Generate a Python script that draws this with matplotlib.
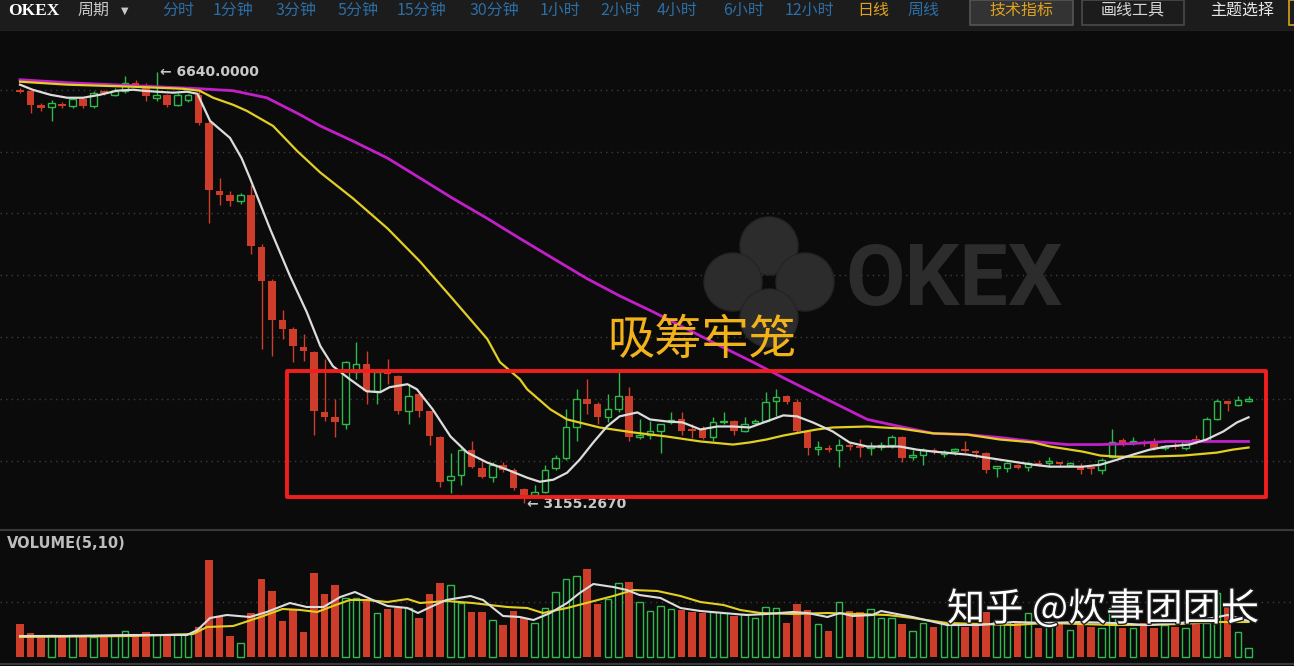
import numpy as np
import matplotlib.pyplot as plt
import matplotlib.patheffects as pe
from matplotlib.patches import Rectangle, Circle
from matplotlib.transforms import IdentityTransform

# daily candles (price)
opens = [6500, 6492, 6378, 6362, 6386, 6370, 6427, 6370, 6492, 6459,
         6492, 6557, 6541, 6435, 6459, 6378, 6419, 6459, 6232, 5679,
         5646, 5598, 5646, 5224, 4955, 4638, 4565, 4419, 4378, 3890,
         3850, 3793, 4215, 4280, 4061, 4224, 4183, 3898, 4037, 3898,
         3695, 3346, 3386, 3589, 3443, 3370, 3467, 3427, 3272, 3224,
         3248, 3443, 3524, 3768, 3996, 3955, 3850, 3915, 4020, 3695,
         3711, 3736, 3809, 3833, 3752, 3752, 3695, 3809, 3817, 3736,
         3805, 3817, 3980, 4020, 3972, 3728, 3598, 3606, 3589, 3630,
         3622, 3606, 3614, 3630, 3695, 3532, 3549, 3589, 3557, 3581,
         3589, 3581, 3565, 3443, 3443, 3467, 3451, 3484, 3484, 3484,
         3467, 3459, 3443, 3427, 3532, 3663, 3647, 3647, 3655, 3606,
         3630, 3606, 3671, 3655, 3833, 3980, 3947, 3980]
highs = [6510, 6500, 6394, 6419, 6403, 6443, 6443, 6492, 6500, 6516,
         6614, 6581, 6557, 6640, 6467, 6476, 6467, 6492, 6248, 5785,
         5679, 5663, 5728, 5256, 4972, 4720, 4581, 4524, 4386, 4321,
         3996, 4305, 4459, 4386, 4220, 4321, 4190, 4118, 4045, 3905,
         3700, 3565, 3606, 3655, 3508, 3492, 3492, 3443, 3281, 3305,
         3467, 3549, 3915, 4077, 4159, 3972, 4037, 4215, 4094, 3833,
         3817, 3800, 3890, 3890, 3793, 3776, 3850, 3890, 3825, 3850,
         3833, 4053, 4077, 4028, 3996, 3730, 3655, 3630, 3671, 3647,
         3671, 3647, 3647, 3711, 3703, 3589, 3606, 3606, 3589, 3606,
         3655, 3589, 3573, 3455, 3492, 3475, 3492, 3508, 3532, 3492,
         3492, 3484, 3451, 3524, 3752, 3679, 3695, 3663, 3687, 3630,
         3647, 3655, 3711, 3850, 3996, 3985, 4020, 4020]
lows = [6476, 6313, 6329, 6248, 6354, 6354, 6354, 6354, 6459, 6451,
        6476, 6533, 6411, 6411, 6362, 6370, 6403, 6215, 5419, 5565,
        5557, 5573, 5175, 4402, 4346, 4484, 4297, 4305, 3711, 3817,
        3695, 3752, 4159, 3955, 3955, 4118, 3874, 3793, 3850, 3630,
        3289, 3240, 3305, 3443, 3362, 3329, 3410, 3264, 3155, 3207,
        3240, 3427, 3508, 3655, 3874, 3793, 3809, 3890, 3655, 3671,
        3671, 3565, 3793, 3711, 3687, 3671, 3655, 3793, 3711, 3728,
        3793, 3809, 3858, 3955, 3728, 3549, 3549, 3573, 3451, 3589,
        3532, 3549, 3589, 3606, 3492, 3508, 3467, 3557, 3532, 3549,
        3573, 3524, 3402, 3370, 3410, 3435, 3418, 3459, 3451, 3451,
        3451, 3394, 3394, 3394, 3524, 3622, 3630, 3622, 3589, 3589,
        3598, 3589, 3638, 3647, 3825, 3898, 3939, 3972]
closes = [6484, 6378, 6354, 6394, 6370, 6427, 6370, 6476, 6476, 6492,
          6557, 6541, 6451, 6459, 6378, 6459, 6459, 6232, 5687, 5646,
          5598, 5646, 5232, 4955, 4638, 4565, 4427, 4386, 3898, 3850,
          3809, 4297, 4280, 4061, 4215, 4199, 3898, 4020, 3898, 3703,
          3329, 3378, 3589, 3451, 3370, 3467, 3427, 3281, 3224, 3248,
          3427, 3524, 3768, 3996, 3955, 3850, 3915, 4020, 3695, 3711,
          3736, 3793, 3825, 3736, 3736, 3687, 3809, 3817, 3736, 3793,
          3817, 3972, 4012, 3972, 3736, 3606, 3606, 3589, 3630, 3614,
          3606, 3614, 3622, 3695, 3524, 3541, 3589, 3573, 3565, 3589,
          3581, 3565, 3427, 3451, 3484, 3443, 3484, 3467, 3492, 3475,
          3475, 3427, 3435, 3508, 3647, 3638, 3655, 3638, 3606, 3614,
          3614, 3647, 3647, 3833, 3980, 3955, 3988, 3996]

# volume (relative units)
volume = [33, 24, 22, 22, 22, 22, 20, 20, 22, 22, 26, 21, 25, 22, 22, 23, 23, 30, 97, 40,
          21, 14, 44, 78, 66, 36, 47, 25, 84, 63, 72, 59, 59, 57, 44, 48, 49, 49, 39, 63,
          74, 72, 54, 45, 45, 37, 32, 46, 39, 34, 49, 65, 78, 81, 88, 53, 58, 74, 75, 55,
          46, 51, 48, 47, 45, 44, 45, 44, 41, 43, 39, 50, 49, 34, 53, 47, 33, 26, 55, 46,
          45, 48, 39, 39, 33, 26, 34, 30, 34, 34, 30, 34, 45, 35, 35, 34, 44, 29, 35, 35,
          27, 34, 30, 29, 49, 29, 29, 34, 29, 32, 30, 29, 34, 34, 64, 54, 25, 9]

# moving average lines (candle index, price)
ma_white_idx = [0, 1.2, 2.9, 4.5, 6, 7.6, 9.2, 10.8, 11.7, 13, 14.6, 15.9, 16.9, 18.1, 20, 21.1,
                21.9, 23.8, 25.7, 27.3, 28.6, 29.8, 31.4, 33, 34.3, 35.2, 36.9, 37.8, 39.3, 41,
                42.6, 44.5, 46.4, 48.3, 49.5, 50.8, 52.1, 53.3, 54.6, 55.9, 57.1, 58.8, 60, 61.6,
                63.1, 64.8, 66.4, 67.9, 69.5, 71.1, 72.7, 74, 75.5, 77.4, 79, 80.7, 83.8, 85.4,
                87, 90.2, 93.3, 96.5, 98.1, 101.2, 102.9, 104.5, 106, 107.6, 109.2, 111.4, 113,
                114.6, 115.9, 117]
ma_white = [6541, 6500, 6459, 6435, 6435, 6459, 6492, 6500, 6492, 6484, 6476, 6484, 6467, 6248,
            6110, 5947, 5785, 5378, 4996, 4703, 4427, 4264, 4159, 4061, 4053, 4094, 4118, 4077,
            3915, 3695, 3565, 3484, 3427, 3362, 3329, 3346, 3402, 3508, 3647, 3776, 3858, 3890,
            3833, 3817, 3809, 3752, 3776, 3776, 3768, 3817, 3866, 3858, 3809, 3736, 3647, 3614,
            3614, 3589, 3573, 3549, 3508, 3467, 3451, 3451, 3467, 3508, 3549, 3589, 3614, 3630,
            3671, 3736, 3809, 3850]
ma_yellow_idx = [0, 4.5, 10.8, 15.5, 17.1, 18.4, 20.3, 21.6, 24.1, 26.4, 28.6, 31.7, 35, 38.1,
                 41.2, 44.5, 45.7, 47.6, 48.3, 50.5, 52.1, 55.2, 58.4, 61.6, 64.8, 67.9, 69.5,
                 71.1, 72.7, 74.3, 75.9, 77.4, 80.7, 82.2, 83.8, 87, 90.2, 93.3, 96.5, 98.1,
                 101.2, 102.9, 104.5, 107.6, 110.8, 114, 115.5, 117]
ma_yellow = [6565, 6541, 6524, 6508, 6492, 6435, 6378, 6329, 6207, 6004, 5830, 5622, 5378, 5110,
             4809, 4484, 4297, 4159, 4077, 3915, 3833, 3768, 3728, 3695, 3655, 3630, 3647, 3671,
             3703, 3728, 3752, 3768, 3776, 3768, 3760, 3720, 3711, 3671, 3647, 3614, 3573, 3541,
             3532, 3532, 3541, 3565, 3589, 3606]
ma_magenta_idx = [0, 4.5, 10.8, 17.1, 20.3, 23.5, 26.7, 28.6, 31.7, 35, 38.1, 41.2, 44.5, 47.6,
                  50.8, 54, 57.1, 60.3, 63.5, 66.7, 69.8, 72.4, 74.3, 77.4, 80.7, 83.8, 87, 90.2,
                  93.3, 96.5, 99.7, 102.9, 106, 109.2, 117]
ma_magenta = [6581, 6557, 6533, 6508, 6492, 6435, 6297, 6207, 6085, 5947, 5785, 5622, 5459, 5297,
              5134, 4972, 4833, 4703, 4565, 4427, 4297, 4183, 4102, 3972, 3833, 3776, 3720, 3711,
              3687, 3655, 3630, 3630, 3638, 3655, 3655]

vol_ma_idx = [0, 4.5, 10.8, 15.9, 16.9, 18.1, 19.7, 21.9, 23.5, 25.7, 27.3, 28.9, 30.5, 31.9,
              33.6, 35, 36.9, 37.9, 39.3, 40.6, 42.9, 44.1, 46, 47.6, 48.9, 50.5, 52.1, 53.3,
              54.6, 56.5, 57.8, 59, 61, 62.9, 64.8, 67, 69.2, 71.1, 73.6, 75, 76.9, 78.1, 79.3,
              81.2, 82, 85, 88.3, 91.4, 94.6, 97.8, 101, 104.1, 107.3, 110.5, 113.6, 115, 117]
vol_ma_white = [21, 21, 22, 22, 27, 39, 42, 40, 45, 54, 50, 50, 60, 65, 57, 51, 49, 44, 51, 57,
                61, 57, 41, 40, 37, 44, 54, 64, 73, 70, 67, 62, 59, 49, 46, 44, 42, 43, 45, 44,
                40, 44, 41, 42, 46, 40, 32, 32, 35, 34, 35, 34, 32, 34, 39, 42, 36]
vol_ma10_idx = [0, 10.8, 16.5, 17.8, 20.3, 22.9, 25, 26.7, 28.3, 29.8, 31.4, 33, 35, 36.9, 38.1,
                40.6, 43.1, 46.4, 48.3, 49.8, 52.1, 54.3, 56.5, 58.4, 60.7, 62.9, 64.8, 67, 68.6,
                70.5, 73.6, 76.9, 79.7, 82.6, 85, 88.3, 91.4, 94.6, 97.8, 101, 104.1, 107.3,
                110.5, 113.6, 117]
vol_ma_yellow = [20, 21, 23, 30, 31, 40, 48, 47, 45, 51, 57, 57, 55, 58, 54, 56, 54, 50, 49, 44,
                 49, 55, 61, 67, 66, 61, 55, 52, 47, 44, 43, 44, 43, 42, 39, 34, 33, 32, 34, 33,
                 32, 32, 33, 35, 35]

menu_items = ["分时", "1分钟", "3分钟", "5分钟", "15分钟", "30分钟", "1小时",
              "2小时", "4小时", "6小时", "12小时", "日线", "周线"]
menu_x = [162, 213, 275, 337, 397, 470, 540, 600, 657, 723, 785, 857, 908]

W, H = 1294, 666
BG = "#0b0b0b"
RED = "#cd3d29"
GREEN = "#2fb84c"
CJK = ["Noto Sans CJK SC", "DejaVu Sans"]


def fx(x):
    return x / W


def fy(y):
    return 1 - y / H


fig = plt.figure(figsize=(W / 100, H / 100), dpi=100, facecolor=BG)

# ---- price panel ----
ax = fig.add_axes([0, fy(528), 1, (528 - 31) / H], facecolor=BG)
idx = np.arange(len(opens))
o = np.array(opens); c = np.array(closes)
up = c >= o

for p in range(3500, 7000, 500):
    ax.axhline(p, color="#3c3c3c", lw=1, ls=(0, (1, 3)), zorder=0)

# watermark logo
wm = "#2c2c2c"
for cx, cy in [(769, 246), (733, 282), (805, 282), (769, 318)]:
    ax.add_patch(Circle((cx, H - cy), 29, transform=IdentityTransform(),
                        facecolor=wm, edgecolor="#242424", lw=1, zorder=0.5))
ax.add_patch(Rectangle((763, H - 288), 12, 12, transform=IdentityTransform(),
                       facecolor=BG, zorder=0.6))
fig.text(fx(845), fy(282), "OKEX", color=wm, fontsize=62, family="Roboto",
         fontweight="bold", va="center", ha="left", zorder=0.5)

ax.vlines(idx[up], np.array(lows)[up], np.array(highs)[up], color=GREEN, lw=1, zorder=2)
ax.vlines(idx[~up], np.array(lows)[~up], np.array(highs)[~up], color=RED, lw=1, zorder=2)
body = np.maximum(np.abs(c - o), 10)
bottom = np.minimum(o, c)
ax.bar(idx[~up], body[~up], bottom=bottom[~up], width=0.68, color=RED, zorder=3)
ax.bar(idx[up], body[up], bottom=bottom[up], width=0.62, facecolor=BG,
       edgecolor=GREEN, lw=1, zorder=3)

ax.plot(ma_magenta_idx, ma_magenta, color="#c21fc9", lw=2, zorder=4)
ax.plot(ma_yellow_idx, ma_yellow, color="#e3cf22", lw=1.6, zorder=4)
ax.plot(ma_white_idx, ma_white, color="#dcdcdc", lw=1.6, zorder=4)

ax.text(13.3, 6640, "\u2190 6640.0000", color="#c8c8c8", fontsize=10, fontweight="bold",
        va="center", ha="left", zorder=5)
ax.text(48.3, 3150, "\u2190 3155.2670", color="#c8c8c8", fontsize=10, fontweight="bold",
        va="center", ha="left", zorder=5)

# highlighted box and label
ax.add_patch(Rectangle((25.4, 3207), 118.7 - 25.4, 4224 - 3207, fill=False,
                       edgecolor="#f21e1e", lw=2.8, joinstyle="round", zorder=6))
ax.text(64.95, 4470, "吸筹牢笼", color="#f2b21a", fontsize=34, family=CJK,
        ha="center", va="center", zorder=6)

ax.set_xlim(-1.905, 121.33)
ax.set_ylim(2955, 6975)
ax.axis("off")

# ---- volume panel ----
vx = fig.add_axes([0, fy(663), 1, (663 - 531) / H], facecolor=BG)
v = np.array(volume)
vx.axhline(55, color="#3c3c3c", lw=1, ls=(0, (1, 3)), zorder=0)
vx.bar(idx[~up], v[~up], width=0.7, color=RED, zorder=2)
vx.bar(idx[up], v[up], width=0.62, facecolor=BG, edgecolor=GREEN, lw=1, zorder=2)
vx.plot(vol_ma10_idx, vol_ma_yellow, color="#e3cf22", lw=1.5, zorder=3)
vx.plot(vol_ma_idx, vol_ma_white, color="#dcdcdc", lw=1.5, zorder=3)
vx.set_xlim(-1.905, 121.33)
vx.set_ylim(-6, 126)
vx.axis("off")
fig.text(fx(7), fy(544), "VOLUME(5,10)", color="#bdbdbd", fontsize=10.5,
         fontweight="bold", va="center", ha="left")
fig.text(fx(947), fy(610), "知乎 @炊事团团长", color="white", fontsize=27.5,
         family=CJK, va="center", ha="left", zorder=10,
         path_effects=[pe.withStroke(linewidth=2, foreground="#202020")])

# panel separators
fig.add_artist(plt.Line2D([0, 1], [fy(530), fy(530)], color="#3a3a3a", lw=1.5))
fig.add_artist(plt.Line2D([0, 1], [fy(664), fy(664)], color="#3a3a3a", lw=1.5))

# ---- toolbar ----
tb = fig.add_axes([0, fy(31), 1, 31 / H], facecolor="#1c1c1c")
tb.set_xlim(0, W); tb.set_ylim(31, 0)
tb.axis("off")
tb.add_patch(Rectangle((0, 0), W, 31, facecolor="#1c1c1c", edgecolor="none"))
tb.add_patch(Rectangle((970, 0), 103, 25, facecolor="#333333", edgecolor="#555555", lw=1.2))
tb.add_patch(Rectangle((1082, 0), 102, 25, facecolor="#1c1c1c", edgecolor="#4a4a4a", lw=1.2))
tb.add_patch(Rectangle((1289, 0), 8, 25, facecolor="#1c1c1c", edgecolor="#d9a21c", lw=1.2))
tb.axhline(30.5, color="#2c2c2c", lw=1)

tb.text(8, 11, "OKEX", color="white", fontsize=12.5, family="Liberation Serif",
        fontweight="bold", va="center", ha="left")
tb.text(78, 10, "周期", color="#c8c8c8", fontsize=11.5, family=CJK, va="center", ha="left")
tb.text(121, 11, "\u25bc", color="#c8c8c8", fontsize=7, va="center", ha="left")
for name, x in zip(menu_items, menu_x):
    col = "#e0a21e" if name == "日线" else "#2c6ea6"
    tb.text(x, 10, name, color=col, fontsize=11.5, family=CJK, va="center", ha="left")
tb.text(1021, 10, "技术指标", color="#e0a21e", fontsize=11.5, family=CJK, va="center", ha="center")
tb.text(1133, 10, "画线工具", color="#d6d6d6", fontsize=11.5, family=CJK, va="center", ha="center")
tb.text(1242, 10, "主题选择", color="#e6e6e6", fontsize=11.5, family=CJK, va="center", ha="center")

fig.savefig("out.png", dpi=100, facecolor=BG)
